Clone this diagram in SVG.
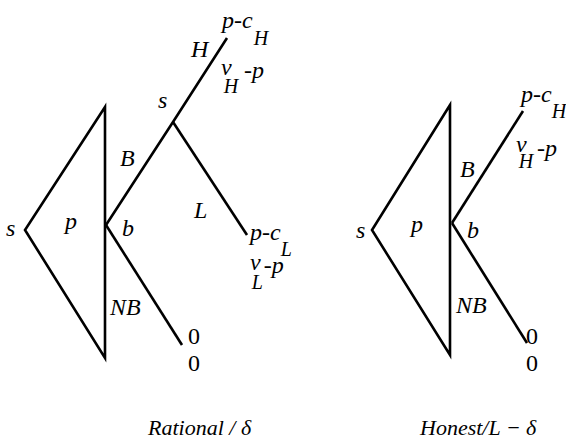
<svg xmlns="http://www.w3.org/2000/svg" width="566" height="448" viewBox="0 0 566 448">
<style>
.ln{stroke:#000;stroke-width:2.6;fill:none;stroke-linejoin:miter;stroke-linecap:butt}
text{font-family:"Liberation Serif","Times New Roman",serif;font-style:italic;font-size:24px;fill:#000}
.sub{font-size:20px}
.up{font-style:normal}
.cap{font-size:22px}
</style>
<rect width="566" height="448" fill="#fff"/>
<g id="connectors">
  <polygon class="ln" points="105,107 25,230 105,358"/>
  <polyline class="ln" points="106,225 173,122 227,38"/>
  <line class="ln" x1="173" y1="122" x2="247" y2="235"/>
  <line class="ln" x1="106" y1="225" x2="182" y2="345"/>
  <polygon class="ln" points="450,105 372,230 450,355"/>
  <line class="ln" x1="452" y1="223" x2="523" y2="111"/>
  <line class="ln" x1="452" y1="223" x2="527" y2="343"/>
</g>
<g id="left-tree">
  <g id="l-root"><text x="6" y="236">s</text><text x="65" y="229">p</text></g>
  <g id="l-buyer"><text x="122" y="236">b</text><text x="120" y="166">B</text><text x="110" y="315">NB</text></g>
  <g id="l-seller"><text x="158" y="108">s</text><text x="191" y="57">H</text><text x="194" y="218">L</text></g>
  <g id="l-payH">
    <text x="222" y="28">p-c<tspan class="sub" dx="1" dy="17">H</tspan></text>
    <text x="221" y="75">v<tspan class="sub" dx="-8" dy="18">H</tspan><tspan dx="6" dy="-15">-p</tspan></text>
  </g>
  <g id="l-payL">
    <text x="250" y="240">p-c<tspan class="sub" dx="0" dy="16">L</tspan></text>
    <text x="250" y="270">v<tspan class="sub" dx="-9" dy="19">L</tspan><tspan dx="1" dy="-16">-p</tspan></text>
  </g>
  <g id="l-pay0"><text class="up" x="188" y="344">0</text><text class="up" x="188" y="371">0</text></g>
  <text id="l-caption" class="cap" x="148" y="435">Rational / δ</text>
</g>
<g id="right-tree">
  <g id="r-root"><text x="356" y="238">s</text><text x="411" y="232">p</text></g>
  <g id="r-buyer"><text x="467" y="238">b</text><text x="460" y="177">B</text><text x="456" y="313">NB</text></g>
  <g id="r-payH">
    <text x="521" y="102">p-c<tspan class="sub" dx="0" dy="16">H</tspan></text>
    <text x="516" y="152">v<tspan class="sub" dx="-8" dy="16">H</tspan><tspan dx="4" dy="-12">-p</tspan></text>
  </g>
  <g id="r-pay0"><text class="up" x="526" y="344">0</text><text class="up" x="526" y="371">0</text></g>
  <text id="r-caption" class="cap" x="420" y="435">Honest/L − δ</text>
</g>
</svg>
